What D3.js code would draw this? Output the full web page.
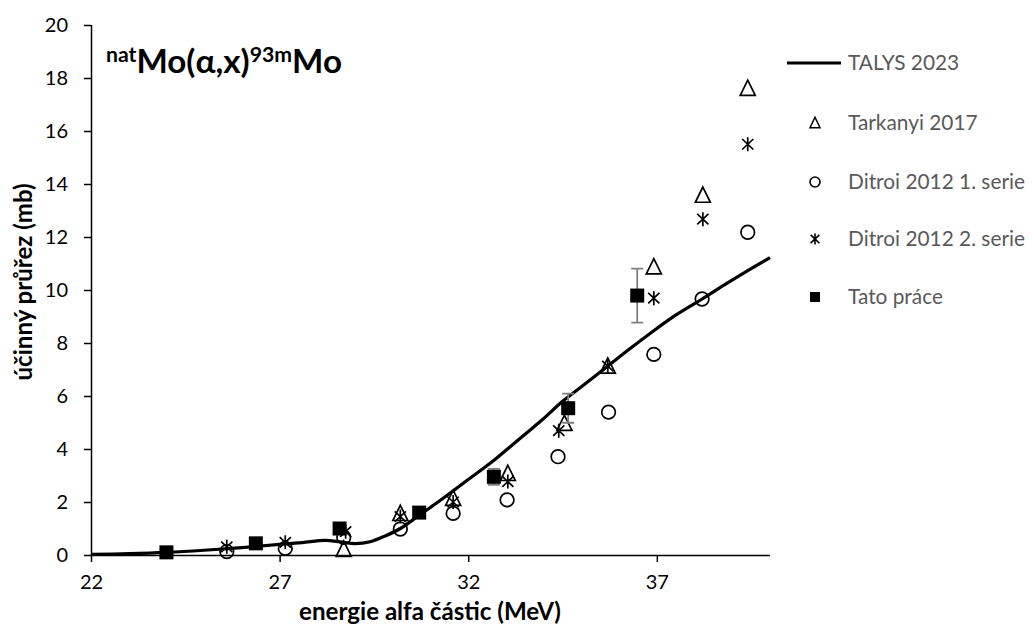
<!DOCTYPE html>
<html><head><meta charset="utf-8">
<script src="https://cdn.jsdelivr.net/npm/d3@7"></script>
<style>body{margin:0;background:#fff}text{font-family:Lato,"Open Sans",sans-serif}</style>
</head><body>
<svg id="c" width="1032" height="630"></svg>
<script>
// TALYS 2023 calculation
const talysE = [22,23,24,25,26,27,27.6,28.2,28.6,29.0,29.4,29.8,30.2,30.7,31.2,31.6,32.0,32.6,33.0,33.5,34.0,34.5,35.0,35.7,36.3,37.0,37.5,38.2,38.8,39.4,40.0];
const talysS = [0.02,0.05,0.1,0.18,0.28,0.4,0.47,0.55,0.5,0.43,0.5,0.72,1.0,1.5,2.0,2.42,2.85,3.48,3.95,4.55,5.15,5.8,6.35,7.13,7.8,8.55,9.05,9.66,10.2,10.72,11.22];
// Tarkanyi 2017
const tarkE = [28.7,30.2,31.6,33.05,34.55,35.7,36.92,38.22,39.41];
const tarkS = [0.22,1.57,2.14,3.08,4.97,7.13,10.88,13.58,17.61];
// Ditroi 2012 1. serie
const dit1E = [25.6,27.15,28.7,30.2,31.6,33.03,34.38,35.72,36.92,38.2,39.41];
const dit1S = [0.13,0.25,0.67,0.98,1.57,2.08,3.71,5.39,7.57,9.66,12.18];
// Ditroi 2012 2. serie
const dit2E = [25.6,27.15,28.75,30.2,31.6,33.05,34.4,35.7,36.92,38.22,39.41];
const dit2S = [0.31,0.48,0.88,1.45,2.0,2.77,4.69,7.13,9.69,12.67,15.5];
// Tato práce (with uncertainty)
const tatoE = [24.0,26.37,28.59,30.7,32.68,34.65,36.48];
const tatoS = [0.1,0.44,1.0,1.6,2.95,5.54,9.79];
const tatoErr = [0.02,0.04,0.08,0.1,0.3,0.55,1.02];

const xTicks = [22,27,32,37];
const yTicks = [0,2,4,6,8,10,12,14,16,18,20];
const legendNames = ["TALYS 2023","Tarkanyi 2017","Ditroi 2012 1. serie","Ditroi 2012 2. serie","Tato práce"];

const svg = d3.select("#c");
const x = d3.scaleLinear().domain([22,40]).range([91,770]);
const y = d3.scaleLinear().domain([0,20]).range([555,25]);

function fitWidth(sel, target){
  const base = parseFloat(sel.style("font-size"));
  const w = sel.node().getComputedTextLength();
  sel.style("font-size", (base*target/w).toFixed(2)+"px");
}

// axes
const gx = svg.append("g").attr("transform","translate(0,555)")
  .call(d3.axisBottom(x).tickValues(xTicks).tickSize(7).tickPadding(13).tickFormat(d3.format("d")));
const gy = svg.append("g").attr("transform","translate(91,0)")
  .call(d3.axisLeft(y).tickValues(yTicks).tickSize(7).tickPadding(16).tickFormat(d3.format("d")));
[gx,gy].forEach(g=>{
  g.select(".domain").attr("stroke","#000").attr("stroke-width",1.5);
  g.selectAll(".tick line").attr("stroke","#000").attr("stroke-width",1.5);
  g.selectAll(".tick text").attr("fill","#000").style("font-size","20px").style("font-family","Lato,sans-serif");
});
gy.select(".domain").attr("d","M0.5,25V555");
gx.select(".domain").attr("d","M91,0.5H770");

// TALYS line
const talys = talysE.map((e,i)=>[e,talysS[i]]);
svg.append("path").datum(talys)
  .attr("d", d3.line().x(d=>x(d[0])).y(d=>y(d[1])).curve(d3.curveCatmullRom.alpha(0.5)))
  .attr("fill","none").attr("stroke","#000").attr("stroke-width",3.2).attr("stroke-linejoin","round");

// symbols
function asterisk(cx,cy,r){
  const d = r*0.8;
  return `M${cx},${cy-r}V${cy+r}M${cx-d},${cy-r*0.75}L${cx+d},${cy+r*0.75}M${cx-d},${cy+r*0.75}L${cx+d},${cy-r*0.75}`;
}
function triangle(cx,cy,s){
  const h = s*0.95;
  return `M${cx},${cy-h/2-1}L${cx+s/2},${cy+h/2}L${cx-s/2},${cy+h/2}Z`;
}

// Tarkanyi triangles
svg.append("g").selectAll("path").data(tarkE.map((e,i)=>[e,tarkS[i]])).join("path")
  .attr("d",d=>triangle(x(d[0]),y(d[1]),15)).attr("fill","none").attr("stroke","#000").attr("stroke-width",1.7);
// Ditroi 1 circles
svg.append("g").selectAll("circle").data(dit1E.map((e,i)=>[e,dit1S[i]])).join("circle")
  .attr("cx",d=>x(d[0])).attr("cy",d=>y(d[1])).attr("r",6.8).attr("fill","none").attr("stroke","#000").attr("stroke-width",1.7);
// Ditroi 2 asterisks
svg.append("g").selectAll("path").data(dit2E.map((e,i)=>[e,dit2S[i]])).join("path")
  .attr("d",d=>asterisk(x(d[0]),y(d[1]),7)).attr("fill","none").attr("stroke","#000").attr("stroke-width",1.7);
// Tato error bars
const tato = tatoE.map((e,i)=>[e,tatoS[i],tatoErr[i]]);
const eb = svg.append("g").attr("stroke","#808080").attr("stroke-width",1.8);
eb.selectAll("path").data(tato).join("path")
  .attr("d",d=>{const cx=x(d[0]),t=y(d[1]+d[2]),b=y(d[1]-d[2]);return `M${cx},${t}V${b}M${cx-6},${t}H${cx+6}M${cx-6},${b}H${cx+6}`;})
  .attr("fill","none");
svg.append("g").selectAll("rect").data(tato).join("rect")
  .attr("x",d=>x(d[0])-7).attr("y",d=>y(d[1])-7).attr("width",14).attr("height",14).attr("fill","#000");

// title
const t = svg.append("text").attr("x",106).attr("y",73).attr("font-weight","bold").attr("fill","#000").style("font-size","30px");
t.append("tspan").text("nat").style("font-size","0.64em").attr("dy",-11);
t.append("tspan").text("Mo(α,x)").attr("dy",11);
t.append("tspan").text("93m").style("font-size","0.64em").attr("dy",-11);
t.append("tspan").text("Mo").attr("dy",11);
{
  const w = t.node().getComputedTextLength();
  t.style("font-size",(30*236/w).toFixed(2)+"px");
}

// axis titles
const xt = svg.append("text").attr("x",430).attr("y",620).attr("text-anchor","middle").attr("font-weight","bold").style("font-size","22px").text("energie alfa částic (MeV)");
fitWidth(xt,262);
const yt = svg.append("text").attr("transform","translate(32,282) rotate(-90)").attr("text-anchor","middle").attr("font-weight","bold").style("font-size","22px").text("účinný průřez (mb)");
fitWidth(yt,197);

// legend
const ly = [63,123,182,239,297];
const lg = svg.append("g");
lg.append("line").attr("x1",787).attr("x2",841).attr("y1",ly[0]).attr("y2",ly[0]).attr("stroke","#000").attr("stroke-width",3.2);
lg.append("path").attr("d",triangle(815,ly[1],10)).attr("fill","none").attr("stroke","#000").attr("stroke-width",1.5);
lg.append("circle").attr("cx",815).attr("cy",ly[2]).attr("r",5).attr("fill","none").attr("stroke","#000").attr("stroke-width",1.6);
lg.append("path").attr("d",asterisk(815,ly[3],5.5)).attr("fill","none").attr("stroke","#000").attr("stroke-width",1.6);
lg.append("rect").attr("x",810).attr("y",ly[4]-5).attr("width",10).attr("height",10).attr("fill","#000");
const lt = lg.selectAll("text").data(legendNames).join("text")
  .attr("x",848).attr("y",(d,i)=>ly[i]).attr("dy","0.35em").attr("fill","#595959").style("font-size","19px").text(d=>d);
{
  const n = lt.filter((d,i)=>i===2).node();
  const fs = 19*177/n.getComputedTextLength();
  lt.style("font-size",fs.toFixed(2)+"px");
}
</script>
</body></html>
